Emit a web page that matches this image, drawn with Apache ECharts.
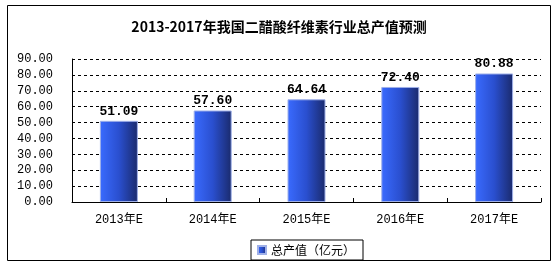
<!DOCTYPE html>
<html><head><meta charset="utf-8">
<script src="https://cdn.jsdelivr.net/npm/echarts@6/dist/echarts.min.js"></script>
<style>html,body{margin:0;padding:0;background:#fff}#c{width:558px;height:269px}</style>
</head><body><div id="c"></div>
<script>
var titleText = '2013-2017年我国二醋酸纤维素行业总产值预测';
var categories = ['2013年E','2014年E','2015年E','2016年E','2017年E'];
var seriesName = '总产值（亿元）';
var values = [51.09, 57.60, 64.64, 72.40, 80.88];
var yTicks = [0, 10, 20, 30, 40, 50, 60, 70, 80, 90];

var FONT = '"Liberation Mono", "Noto Sans CJK SC", monospace';
var chart = echarts.init(document.getElementById('c'), null, {renderer: 'canvas'});
var barGrad = new echarts.graphic.LinearGradient(0, 0, 1, 0, [
  {offset: 0, color: '#3a6bff'},
  {offset: 0.5, color: '#2a4fcf'},
  {offset: 1, color: '#1a2a6c'}
]);
chart.setOption({
  animation: false,
  title: {
    text: titleText, left: 'center', top: 15,
    textStyle: {fontFamily: '"Noto Sans CJK SC", serif', fontSize: 14, fontWeight: 'bold', color: '#000'}
  },
  graphic: [{
    type: 'rect', shape: {x: 7.5, y: 5.5, width: 543, height: 255},
    style: {fill: 'none', stroke: '#000', lineWidth: 1}, z: -1, silent: true
  }],
  grid: {left: 72, right: 17, top: 59, bottom: 67},
  legend: {
    data: [seriesName], left: 251, top: 240,
    itemWidth: 8, itemHeight: 8, itemGap: 5,
    borderColor: '#000', borderWidth: 1, borderRadius: 0,
    padding: [4, 8, 4, 6],
    icon: 'rect',
    textStyle: {fontFamily: '"Noto Sans CJK SC", sans-serif', fontSize: 12, color: '#000'}
  },
  xAxis: {
    type: 'category', data: categories,
    axisLine: {lineStyle: {color: '#000', width: 1}},
    axisTick: {show: true, inside: true, length: 4, lineStyle: {color: '#000'}},
    axisLabel: {fontFamily: FONT, fontSize: 12, color: '#000', margin: 12}
  },
  yAxis: {
    type: 'value', min: yTicks[0], max: yTicks[yTicks.length - 1], interval: 10,
    axisLine: {show: true, lineStyle: {color: '#000', width: 1}},
    axisTick: {show: false},
    axisLabel: {fontFamily: FONT, fontSize: 12, color: '#000', margin: 19,
      formatter: function (v) { return v.toFixed(2); }},
    splitLine: {show: true, lineStyle: {color: '#000', type: [3, 3], width: 1}}
  },
  series: [{
    name: seriesName, type: 'bar', data: values, barWidth: 38,
    itemStyle: {color: barGrad, borderColor: '#9fb0e8', borderWidth: 1},
    label: {show: true, position: 'top', distance: 3,
      fontFamily: FONT, fontSize: 13, fontWeight: 'bold', color: '#000',
      formatter: function (p) { return p.value.toFixed(2); }}
  }]
});
</script></body></html>
